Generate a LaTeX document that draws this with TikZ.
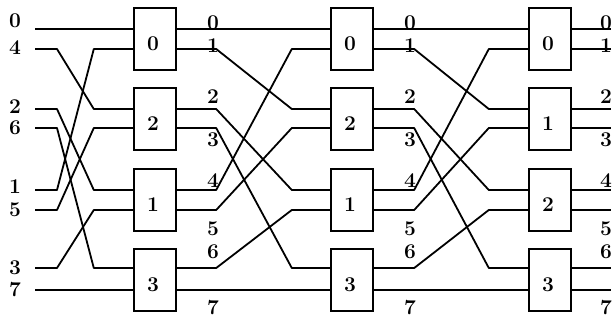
\documentclass[tikz,border=0pt]{standalone}
\usepackage{fontspec}
\usetikzlibrary{calc}

\begin{document}
\begin{tikzpicture}[x=1pt, y=-1pt,
  every node/.style={font=\fontsize{21}{23}\selectfont\bfseries},
  sw/.style={draw, line width=2.4pt, minimum width=42pt, minimum height=62pt, inner sep=0pt},
  wire/.style={line width=1.8pt, line join=round},
  lbl/.style={inner sep=0pt}
]
\useasboundingbox (0,0) rectangle (613,322);

% wire levels
\foreach \r/\y in {0/29,1/49,2/109,3/128,4/190,5/210,6/268,7/290}
  \coordinate (r\r) at (0,\y);

% switches, one column per stage
\foreach \p/\y/\n in {0/39/0,1/119/2,2/200/1,3/280/3}
  \node[sw, label={[lbl,yshift=-5pt,xshift=-2pt]center:\n}] (a\p) at (155,\y) {};
\foreach \p/\y/\n in {0/39/0,1/119/2,2/200/1,3/280/3}
  \node[sw, label={[lbl,yshift=-5pt,xshift=-2pt]center:\n}] (b\p) at (352,\y) {};
\foreach \p/\y/\n in {0/39/0,1/119/1,2/200/2,3/280/3}
  \node[sw, label={[lbl,yshift=-5pt,xshift=-2pt]center:\n}] (c\p) at (550,\y) {};

% inputs (bit reversed order)
\foreach \r/\y/\n/\ly in {0/29/0/21,1/49/4/48,2/109/2/107,3/128/6/128,4/190/1/187,5/210/5/210,6/268/3/268,7/290/7/290}{
  \node[lbl] (in\r) at (15,\ly) {\n};
  \coordinate (w\r) at (35,\y);
}

% perfect shuffle before every stage
\foreach \s/\t in {0/0,1/2,2/4,3/6,4/1,5/3,6/5,7/7}{
  \pgfmathtruncatemacro\p{\t/2}
  \pgfmathtruncatemacro\q{\s/2}
  \draw[wire] (w\s) -- ++(22,0) -- ($(a\p.west |- r\t)+(-39,0)$) -- (a\p.west |- r\t);
  \draw[wire] (a\q.east |- r\s) -- ++(39,0) -- ($(b\p.west |- r\t)+(-38,0)$) -- (b\p.west |- r\t);
  \draw[wire] (b\q.east |- r\s) -- ++(40,0) -- ($(c\p.west |- r\t)+(-39,0)$) -- (c\p.west |- r\t);
}

% outputs
\foreach \r in {0,...,7}{
  \pgfmathtruncatemacro\q{\r/2}
  \path (c\q.east |- r\r) ++(39,0) coordinate (e\r);
  \draw[wire] (c\q.east |- r\r) -- (e\r);
}

% line numbers after each stage
\foreach \n/\y in {0/23,1/46,2/97,3/140,4/181,5/229,6/252,7/308}{
  \node[lbl] (x\n) at (213,\y) {\n};
  \node[lbl] (y\n) at (410,\y) {\n};
  \node[lbl] (z\n) at (606,\y) {\n};
}

\end{tikzpicture}
\end{document}
